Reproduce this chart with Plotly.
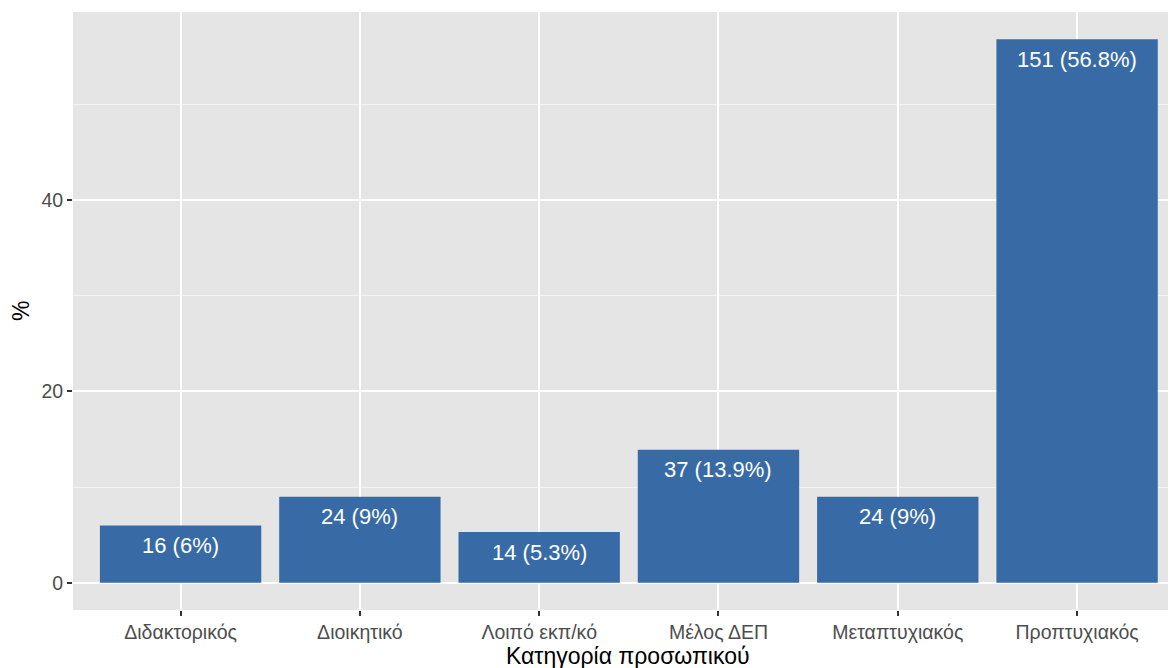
import plotly.graph_objects as go

categories = ["Διδακτορικός", "Διοικητικό", "Λοιπό εκπ/κό", "Μέλος ΔΕΠ", "Μεταπτυχιακός", "Προπτυχιακός"]
counts = [16, 24, 14, 37, 24, 151]
percents = [6.0, 9.0, 5.3, 13.9, 9.0, 56.8]
pct_labels = ["6%", "9%", "5.3%", "13.9%", "9%", "56.8%"]
y_ticks = [0, 20, 40]
x_title = "Κατηγορία προσωπικού"
y_title = "%"

labels = [f"{c} ({p})" for c, p in zip(counts, pct_labels)]
FONT = "Liberation Sans, Arial, sans-serif"

# the page body adds an 8px offset; size the figure to fit the window
W, H = 1160, 660
ML, MR, MT, MB = 65, 0, 4, 58
PW, PH = W - ML - MR, H - MT - MB

fig = go.Figure()
fig.add_trace(go.Bar(
    x=categories, y=percents, width=0.9,
    marker=dict(color="#386BA6", line=dict(width=0)),
    hoverinfo="skip",
))

for cat, val, lab in zip(categories, percents, labels):
    fig.add_annotation(x=cat, y=val, text=lab, showarrow=False,
                       yanchor="middle", yshift=-20,
                       font=dict(family=FONT, size=22, color="white"))

# axis titles (pixel positions converted to paper coords)
fig.add_annotation(x=(620 - ML) / PW, xref="paper", y=(H - MB - 648) / PH, yref="paper",
                   text=x_title, showarrow=False, xanchor="center", yanchor="middle",
                   font=dict(family=FONT, size=23, color="black"))
fig.add_annotation(x=(13 - ML) / PW, xref="paper", y=0.5, yref="paper",
                   text=y_title, showarrow=False, textangle=-90,
                   xanchor="center", yanchor="middle",
                   font=dict(family=FONT, size=23, color="black"))

ymax = max(percents)
pad = ymax * 0.05
px_per_cat = 179.3
fig.update_layout(
    width=W, height=H,
    margin=dict(l=ML, r=MR, t=MT, b=MB),
    paper_bgcolor="white", plot_bgcolor="#E5E5E5",
    font=dict(family=FONT),
    showlegend=False,
    xaxis=dict(
        range=[-0.6, -0.6 + PW / px_per_cat], type="category", automargin=False,
        showgrid=True, gridcolor="white", gridwidth=1.6,
        ticks="outside", ticklen=5, tickwidth=1.5, tickcolor="#333333",
        tickfont=dict(size=19.5, color="#4D4D4D"),
        zeroline=False, showline=False,
    ),
    yaxis=dict(
        range=[-pad, ymax + pad], automargin=False,
        tickvals=y_ticks,
        showgrid=True, gridcolor="white", gridwidth=1.6,
        minor=dict(dtick=10, tick0=0, showgrid=True, gridcolor="#F2F2F2", gridwidth=0.8, ticks=""),
        ticks="outside", ticklen=5, tickwidth=1.5, tickcolor="#333333",
        tickfont=dict(size=19.5, color="#4D4D4D"),
        zeroline=False, showline=False,
    ),
)

fig.write_html("out.html")
